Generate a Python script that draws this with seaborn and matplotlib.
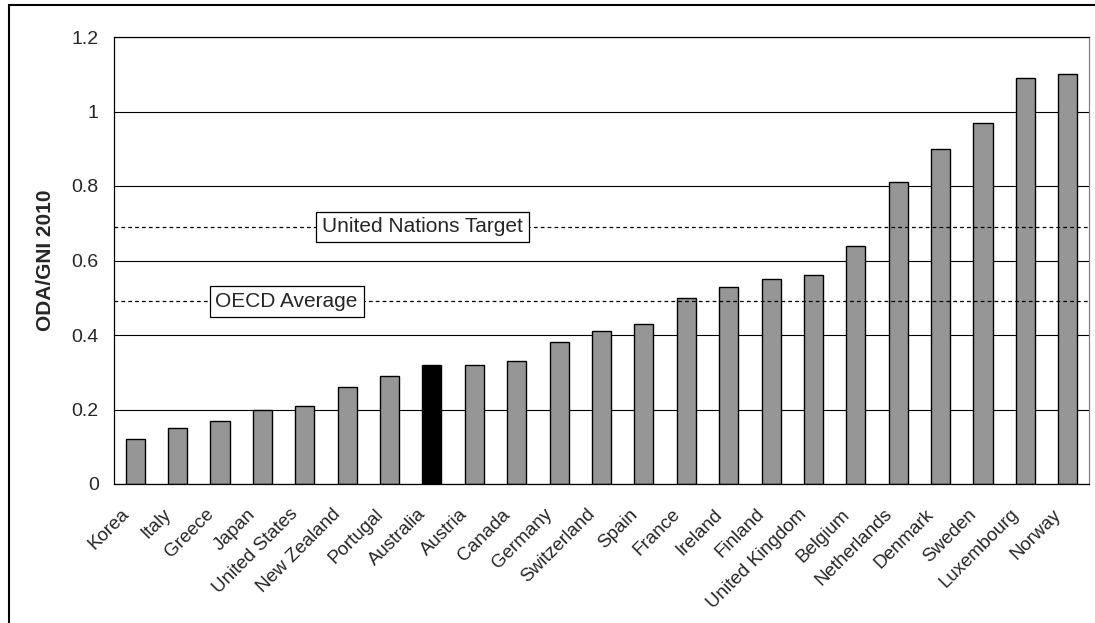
import matplotlib
matplotlib.use("Agg")
import matplotlib.pyplot as plt
import matplotlib.transforms as mtransforms
from matplotlib.patches import Rectangle
import numpy as np
import pandas as pd
import seaborn as sns

countries = ["Korea", "Italy", "Greece", "Japan", "United States", "New Zealand",
             "Portugal", "Australia", "Austria", "Canada", "Germany", "Switzerland",
             "Spain", "France", "Ireland", "Finland", "United Kingdom", "Belgium",
             "Netherlands", "Denmark", "Sweden", "Luxembourg", "Norway"]
oda_gni = [0.12, 0.15, 0.17, 0.20, 0.21, 0.26, 0.29, 0.32, 0.32, 0.33, 0.38, 0.41,
           0.43, 0.50, 0.53, 0.55, 0.56, 0.64, 0.81, 0.90, 0.97, 1.09, 1.10]
highlight = "Australia"
un_target = 0.69
oecd_average = 0.49
y_ticks = [0, 0.2, 0.4, 0.6, 0.8, 1.0, 1.2]
y_tick_labels = ["0", "0.2", "0.4", "0.6", "0.8", "1", "1.2"]

sns.set_style("white")
plt.rcParams['font.family'] = ['Liberation Sans', 'DejaVu Sans']

df = pd.DataFrame({"country": countries, "value": oda_gni})
colors = {c: ("#000000" if c == highlight else "#969696") for c in countries}

fig = plt.figure(figsize=(10.95, 6.23), dpi=100)
ax = fig.add_axes([114/1095, 1-484/623, (1089-114)/1095, (484-37)/623])

sns.barplot(data=df, x="country", y="value", hue="country", palette=colors,
            legend=False, width=0.45, edgecolor="black", linewidth=1.0,
            saturation=1, ax=ax, zorder=2)

ax.set_xlim(-0.5, len(countries) - 0.5)
ax.set_ylim(0, 1.2)
ax.set_yticks(y_ticks)
ax.set_yticklabels(y_tick_labels, fontsize=14)
ax.yaxis.grid(True, color="black", linewidth=0.8, zorder=0)
ax.set_axisbelow(True)

# x ticks: marks at category boundaries, labels at centres
ax.set_xticks(range(len(countries)))
ax.set_xticks(np.arange(-0.5, len(countries), 1.0), minor=True)
ax.tick_params(axis="x", which="major", length=0, pad=2)
ax.tick_params(axis="x", which="minor", length=4, width=0.8, color="black", direction="out")
ax.tick_params(axis="y", length=5, width=0.8, color="black", direction="out", pad=6)
ax.set_xticklabels(countries, rotation=45, ha="right", va="center",
                   rotation_mode="anchor", fontsize=13.5)
offset = mtransforms.ScaledTranslation(-9/100, -25/100, fig.dpi_scale_trans)
for lab in ax.get_xticklabels():
    lab.set_transform(lab.get_transform() + offset)

ax.set_xlabel("")
ax.set_ylabel("ODA/GNI 2010", fontsize=15, fontweight="bold", labelpad=12)

for side in ["left", "bottom", "top"]:
    ax.spines[side].set_color("black")
    ax.spines[side].set_linewidth(0.9)
ax.spines["right"].set_color("#808080")
ax.spines["right"].set_linewidth(0.9)

# reference lines
ax.axhline(un_target, color="black", linewidth=0.9, linestyle=(0, (3, 2.5)), zorder=3)
ax.axhline(oecd_average, color="black", linewidth=0.9, linestyle=(0, (3, 2.5)), zorder=3)
box = dict(boxstyle="square,pad=0.28", facecolor="white", edgecolor="black", linewidth=0.9)
ax.text(6.78, un_target, "United Nations Target", fontsize=15, ha="center", va="center",
        bbox=box, zorder=4)
ax.text(3.57, oecd_average, "OECD Average", fontsize=15, ha="center", va="center",
        bbox=box, zorder=4)

# chart area border (top and left visible)
fig.add_artist(Rectangle((9/1095, -0.2), 1.5, 1.2 - 5/623, transform=fig.transFigure,
                         fill=False, edgecolor="black", linewidth=1.5))

fig.savefig("out.png", dpi=100)
